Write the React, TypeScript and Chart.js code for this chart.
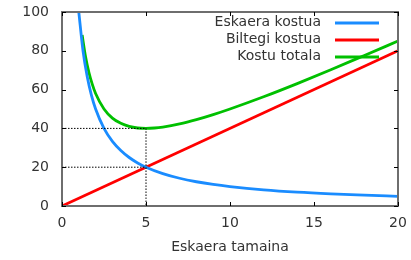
import React, { useEffect, useRef } from "react";
import { Chart, registerables } from "chart.js";

Chart.register(...registerables);

const xTicks = [0, 5, 10, 15, 20];
const yTicks = [0, 20, 40, 60, 80, 100];

const orderX = [1, 1.25, 1.5, 1.75, 2, 2.5, 3, 3.5, 4, 4.5, 5, 6, 7, 8, 9, 10, 12, 14, 16, 18, 20];
const orderY = [100, 80, 66.7, 57.1, 50, 40, 33.3, 28.6, 25, 22.2, 20, 16.7, 14.3, 12.5, 11.1, 10, 8.3, 7.1, 6.25, 5.6, 5];

const storeX = [0, 20];
const storeY = [0, 80];

const totalX = [1.2, 1.4, 1.6, 1.8, 2, 2.5, 3, 3.5, 4, 4.5, 5, 5.5, 6, 7, 8, 9, 10, 12, 14, 16, 18, 20];
const totalY = [88.1, 77, 68.9, 62.8, 58, 50, 45.3, 42.6, 41, 40.2, 40, 40.2, 40.7, 42.3, 44.5, 47.1, 50, 56.3, 63.1, 70.25, 77.6, 85];

const guideX = [0, 5, 5];
const guideY = [40, 40, 0];
const guide2X = [0, 5];
const guide2Y = [20, 20];

const labels = ["Eskaera kostua", "Biltegi kostua", "Kostu totala"];
const colors = ["#1a8cff", "#ff0000", "#00c000"];

const pts = (xs: number[], ys: number[]) => xs.map((x, i) => ({ x, y: ys[i] }));

const FONT = "DejaVu Sans";
const TEXT = "#333";

const framePlugin = {
  id: "frame",
  afterDraw(chart: any) {
    const { ctx, chartArea: a, scales } = chart;
    const l = Math.round(a.left), r = Math.round(a.right), tp = Math.round(a.top), b = Math.round(a.bottom);
    ctx.save();
    ctx.setLineDash([]);
    ctx.strokeStyle = "#6e6e6e";
    ctx.lineWidth = 2;
    ctx.beginPath();
    ctx.moveTo(l, tp);
    ctx.lineTo(r, tp);
    ctx.lineTo(r, b);
    ctx.lineTo(l, b);
    ctx.closePath();
    ctx.stroke();
    ctx.strokeStyle = "#000";
    ctx.lineWidth = 1;
    ctx.beginPath();
    const t = 4;
    for (const v of xTicks) {
      const px = Math.round(scales.x.getPixelForValue(v)) + 0.5;
      ctx.moveTo(px, b);
      ctx.lineTo(px, b - t);
      ctx.moveTo(px, tp);
      ctx.lineTo(px, tp + t);
    }
    for (const v of yTicks) {
      const py = Math.round(scales.y.getPixelForValue(v)) + 0.5;
      ctx.moveTo(l, py);
      ctx.lineTo(l + t, py);
      ctx.moveTo(r, py);
      ctx.lineTo(r - t, py);
    }
    ctx.stroke();
    // legend
    ctx.font = `14px '${FONT}'`;
    ctx.textAlign = "right";
    ctx.textBaseline = "middle";
    const rows = [23, 40, 57];
    labels.forEach((lab, i) => {
      ctx.fillStyle = TEXT;
      ctx.fillText(lab, 321, rows[i] - 0.5);
      ctx.strokeStyle = colors[i];
      ctx.lineWidth = 2.8;
      ctx.beginPath();
      ctx.moveTo(335, rows[i]);
      ctx.lineTo(379, rows[i]);
      ctx.stroke();
    });
    ctx.restore();
  },
};

const noPad = (s: any) => {
  s.paddingTop = 0;
  s.paddingBottom = 0;
  s.paddingLeft = 0;
  s.paddingRight = 0;
};

export default function App() {
  const ref = useRef<HTMLCanvasElement>(null);
  useEffect(() => {
    document.body.style.margin = "0";
    const line = (data: any, color: string, w = 2.8, dash?: number[]) => ({
      data,
      borderColor: color,
      backgroundColor: color,
      borderWidth: w,
      borderDash: dash,
      showLine: true,
      pointRadius: 0,
      cubicInterpolationMode: "monotone",
      fill: false,
    });
    const chart = new Chart(ref.current!, {
      type: "scatter",
      data: {
        datasets: [
          line(pts(guideX, guideY), "#000", 1, [1.5, 1.5]),
          line(pts(guide2X, guide2Y), "#000", 1, [1.5, 1.5]),
          line(pts(orderX, orderY), colors[0]),
          line(pts(storeX, storeY), colors[1]),
          line(pts(totalX, totalY), colors[2]),
        ] as any,
      },
      options: {
        animation: false,
        responsive: false,
        events: [],
        layout: { padding: { left: 0, top: 12, right: 13, bottom: 0 } },
        plugins: { legend: { display: false }, tooltip: { enabled: false } },
        scales: {
          x: {
            type: "linear",
            min: 0,
            max: 20,
            grid: { display: false, drawTicks: false },
            border: { display: false },
            ticks: {
              stepSize: 5,
              padding: 9,
              color: TEXT,
              font: { family: FONT, size: 14 },
            },
            title: {
              display: true,
              text: "Eskaera tamaina",
              color: TEXT,
              font: { family: FONT, size: 14 },
              padding: { top: 4, bottom: 4 },
            },
            afterFit: (s: any) => {
              s.height = 54;
              noPad(s);
            },
          },
          y: {
            type: "linear",
            min: 0,
            max: 100,
            grid: { display: false, drawTicks: false },
            border: { display: false },
            ticks: {
              stepSize: 20,
              padding: 13,
              color: TEXT,
              font: { family: FONT, size: 14 },
            },
            afterFit: (s: any) => {
              s.width = 62;
              noPad(s);
            },
          },
        },
      } as any,
      plugins: [framePlugin],
    });
    return () => chart.destroy();
  }, []);
  return <canvas ref={ref} width={411} height={260} style={{ display: "block" }} />;
}
